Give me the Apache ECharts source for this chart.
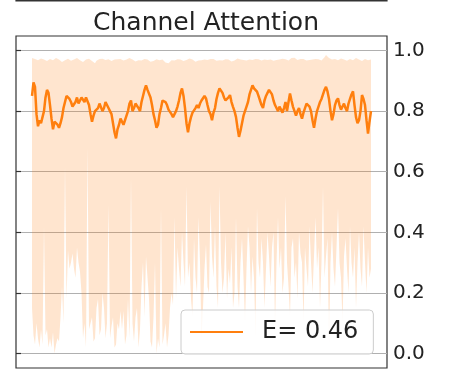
<!DOCTYPE html>
<html>
<head>
<meta charset="utf-8">
<script src="https://cdn.jsdelivr.net/npm/echarts@6/dist/echarts.min.js"></script>
<style>
  html, body { margin: 0; padding: 0; background: #fff; }
  #chart { width: 449px; height: 369px; }
</style>
</head>
<body>
<div id="chart"></div>
<script>
// mean attention per channel (orange line)
const meanValues = [
  0.85, 0.895, 0.88, 0.79, 0.75, 0.77, 0.76, 0.78, 0.80, 0.845, 0.87, 0.86, 0.82, 0.775, 0.74, 0.765, 0.77, 0.755, 0.745, 0.76,
  0.78, 0.81, 0.83, 0.85, 0.855, 0.84, 0.83, 0.815, 0.81, 0.83, 0.845, 0.825, 0.83, 0.845, 0.84, 0.83, 0.845, 0.84, 0.82, 0.79,
  0.765, 0.785, 0.80, 0.795, 0.81, 0.825, 0.82, 0.80, 0.81, 0.83, 0.825, 0.81, 0.80, 0.79, 0.76, 0.73, 0.71, 0.74, 0.755, 0.775,
  0.77, 0.755, 0.76, 0.785, 0.80, 0.825, 0.835, 0.80, 0.81, 0.825, 0.83, 0.81, 0.80, 0.83, 0.85, 0.87, 0.885, 0.87, 0.865, 0.845,
  0.82, 0.79, 0.77, 0.745, 0.755, 0.79, 0.81, 0.835, 0.84, 0.83, 0.82, 0.805, 0.81, 0.79, 0.78, 0.79, 0.80, 0.815, 0.835, 0.86,
  0.875, 0.85, 0.81, 0.76, 0.73, 0.76, 0.78, 0.795, 0.80, 0.81, 0.82, 0.81, 0.825, 0.835, 0.836, 0.85, 0.842, 0.82, 0.80, 0.79,
  0.77, 0.795, 0.81, 0.84, 0.86, 0.875, 0.88, 0.86, 0.845, 0.835, 0.83, 0.845, 0.853, 0.83, 0.814, 0.80, 0.78, 0.745, 0.715, 0.735,
  0.76, 0.785, 0.80, 0.815, 0.83, 0.855, 0.87, 0.885, 0.875, 0.87, 0.864, 0.85, 0.835, 0.82, 0.81, 0.835, 0.85, 0.86, 0.87, 0.865,
  0.855, 0.835, 0.82, 0.81, 0.80, 0.815, 0.82, 0.795, 0.81, 0.83, 0.80, 0.83, 0.858, 0.835, 0.814, 0.80, 0.785, 0.80, 0.81, 0.79,
  0.775, 0.795, 0.81, 0.825, 0.83, 0.815, 0.80, 0.77, 0.745, 0.775, 0.80, 0.815, 0.83, 0.84, 0.855, 0.87, 0.88, 0.865, 0.84, 0.80,
  0.77, 0.79, 0.82, 0.835, 0.842, 0.82, 0.805, 0.815, 0.825, 0.81, 0.80, 0.825, 0.84, 0.855, 0.865, 0.82, 0.78, 0.76, 0.77, 0.80,
  0.853, 0.84, 0.82, 0.77, 0.726, 0.765, 0.80
];

// min / max envelope (shaded band)
const lowerValues = [
  0.15, 0.06, 0.03, 0.10, 0.05, 0.02, 0.08, 0.03, 0.42, 0.06, 0.08, 0.02, 0.05, 0.02, 0.07, 0.0, 0.03, 0.05, 0.04, 0.12,
  0.22, 0.10, 0.62, 0.18, 0.34, 0.28, 0.30, 0.33, 0.28, 0.25, 0.35, 0.30, 0.27, 0.20, 0.05, 0.10, 0.02, 0.68, 0.08, 0.12,
  0.12, 0.04, 0.05, 0.15, 0.18, 0.06, 0.08, 0.20, 0.15, 0.05, 0.10, 0.49, 0.05, 0.09, 0.12, 0.02, 0.03, 0.10, 0.08, 0.14,
  0.08, 0.14, 0.03, 0.06, 0.18, 0.05, 0.58, 0.10, 0.04, 0.12, 0.15, 0.02, 0.08, 0.22, 0.30, 0.12, 0.32, 0.25, 0.18, 0.04,
  0.02, 0.12, 0.30, 0.0, 0.05, 0.02, 0.48, 0.03, 0.06, 0.10, 0.02, 0.06, 0.15, 0.20, 0.16, 0.45, 0.18, 0.35, 0.28, 0.22,
  0.40, 0.30, 0.22, 0.55, 0.25, 0.30, 0.18, 0.12, 0.38, 0.25, 0.20, 0.45, 0.30, 0.05, 0.15, 0.28, 0.36, 0.22, 0.20, 0.50,
  0.32, 0.25, 0.42, 0.22, 0.15, 0.55, 0.30, 0.20, 0.25, 0.40, 0.18, 0.28, 0.23, 0.35, 0.15, 0.20, 0.45, 0.22, 0.15, 0.30,
  0.38, 0.25, 0.10, 0.28, 0.42, 0.35, 0.20, 0.32, 0.25, 0.05, 0.48, 0.30, 0.25, 0.38, 0.30, 0.15, 0.28, 0.40, 0.32, 0.22,
  0.35, 0.40, 0.08, 0.30, 0.45, 0.28, 0.35, 0.20, 0.25, 0.52, 0.30, 0.22, 0.12, 0.35, 0.38, 0.25, 0.30, 0.18, 0.40, 0.33,
  0.30, 0.10, 0.35, 0.28, 0.22, 0.42, 0.30, 0.20, 0.32, 0.45, 0.28, 0.35, 0.15, 0.30, 0.55, 0.25, 0.32, 0.38, 0.02, 0.30,
  0.40, 0.28, 0.22, 0.35, 0.48, 0.30, 0.25, 0.10, 0.32, 0.38, 0.28, 0.20, 0.42, 0.30, 0.25, 0.35, 0.15, 0.30, 0.40, 0.28,
  0.22, 0.42, 0.30, 0.20, 0.35, 0.25, 0.28
];
const upperValues = [
  0.975, 0.970, 0.972, 0.966, 0.968, 0.973, 0.974, 0.969, 0.970, 0.965, 0.965, 0.970, 0.972, 0.967, 0.968, 0.974, 0.975, 0.969, 0.970, 0.966,
  0.962, 0.967, 0.968, 0.973, 0.973, 0.968, 0.966, 0.971, 0.970, 0.975, 0.975, 0.970, 0.968, 0.964, 0.962, 0.968, 0.970, 0.974, 0.973, 0.968,
  0.965, 0.960, 0.958, 0.966, 0.970, 0.972, 0.968, 0.973, 0.974, 0.969, 0.966, 0.971, 0.970, 0.965, 0.962, 0.970, 0.975, 0.971, 0.968, 0.972,
  0.972, 0.967, 0.965, 0.970, 0.970, 0.975, 0.976, 0.970, 0.968, 0.964, 0.963, 0.968, 0.971, 0.967, 0.966, 0.972, 0.974, 0.970, 0.969, 0.963,
  0.960, 0.965, 0.967, 0.971, 0.972, 0.968, 0.965, 0.970, 0.970, 0.960, 0.955, 0.958, 0.962, 0.968, 0.970, 0.967, 0.966, 0.971, 0.973, 0.970,
  0.968, 0.965, 0.964, 0.969, 0.970, 0.974, 0.975, 0.970, 0.967, 0.963, 0.962, 0.967, 0.970, 0.968, 0.965, 0.970, 0.972, 0.969, 0.968, 0.972,
  0.975, 0.972, 0.970, 0.966, 0.964, 0.968, 0.970, 0.967, 0.966, 0.971, 0.973, 0.970, 0.968, 0.964, 0.962, 0.967, 0.970, 0.974, 0.975, 0.970,
  0.967, 0.969, 0.970, 0.967, 0.965, 0.970, 0.972, 0.969, 0.968, 0.972, 0.974, 0.971, 0.970, 0.967, 0.966, 0.970, 0.973, 0.969, 0.968, 0.970,
  0.970, 0.966, 0.964, 0.969, 0.972, 0.970, 0.968, 0.973, 0.975, 0.971, 0.970, 0.967, 0.966, 0.975, 0.980, 0.976, 0.972, 0.969, 0.968, 0.972,
  0.975, 0.972, 0.970, 0.967, 0.965, 0.969, 0.972, 0.970, 0.968, 0.972, 0.974, 0.971, 0.970, 0.967, 0.966, 0.978, 0.985, 0.979, 0.975, 0.972,
  0.970, 0.971, 0.972, 0.969, 0.968, 0.972, 0.974, 0.971, 0.970, 0.967, 0.966, 0.970, 0.972, 0.969, 0.968, 0.972, 0.975, 0.972, 0.970, 0.967,
  0.965, 0.969, 0.972, 0.970, 0.968, 0.969, 0.970
];

const yTicks = [0, 0.2, 0.4, 0.6, 0.8, 1.0];
const legendLabel = "E= 0.46";
const titleText = "Channel Attention";

const channels = meanValues.map((_, i) => i);
const bandHeight = upperValues.map((v, i) => v - lowerValues[i]);

const FONT = "DejaVu Sans";
const FRAME = "#333";
const ORANGE = "#ff7f0e";

const chart = echarts.init(document.getElementById("chart"), null, { renderer: "canvas" });

chart.setOption({
  animation: false,
  title: {
    text: titleText,
    left: 201,
    textAlign: "center",
    top: 6,
    textStyle: { fontFamily: FONT, fontSize: 25, fontWeight: "normal", color: "#222" },
  },
  legend: {
    data: [{ name: legendLabel, icon: "rect" }],
    left: 181,
    top: 310,
    itemWidth: 53,
    itemHeight: 2,
    padding: [10, 15, 10, 9],
    backgroundColor: "rgba(255,255,255,0.8)",
    borderColor: "#cccccc",
    borderWidth: 1,
    borderRadius: 4,
    textStyle: { fontFamily: FONT, fontSize: 24, color: "#222", padding: [0, 0, 0, 14] },
  },
  grid: [
    // axes frame
    { left: 16, right: 62, top: 36, bottom: 1, show: true, borderColor: FRAME, borderWidth: 1.2 },
    // ticks + grid lines (0..1)
    { left: 16, right: 62, top: 50.5, bottom: 15.5 },
    // data area (x margins like matplotlib)
    { left: 32, right: 78, top: 50.5, bottom: 15.5 },
    // bottom edge of the subplot above
    { left: 16, right: 62, top: 0, height: 1, show: true, borderColor: FRAME, borderWidth: 1.2 },
  ],
  xAxis: [
    { gridIndex: 0, type: "value", show: false },
    { gridIndex: 1, type: "value", show: false },
    { gridIndex: 2, type: "category", data: channels, boundaryGap: false, show: false },
    { gridIndex: 3, type: "value", show: false },
  ],
  yAxis: [
    { gridIndex: 0, type: "value", show: false },
    {
      gridIndex: 1,
      type: "value",
      position: "right",
      min: yTicks[0],
      max: yTicks[yTicks.length - 1],
      interval: 0.2,
      axisLine: { show: false },
      axisTick: { show: true, length: 5, lineStyle: { color: FRAME, width: 1.2 } },
      axisLabel: {
        margin: 6,
        fontFamily: FONT,
        fontSize: 20,
        color: "#222",
        formatter: (v) => v.toFixed(1),
      },
      splitLine: { show: true, lineStyle: { color: "#b0b0b0", width: 1 } },
    },
    { gridIndex: 2, type: "value", min: 0, max: 1, show: false },
    { gridIndex: 3, type: "value", show: false },
  ],
  series: [
    {
      name: "lower",
      type: "line",
      xAxisIndex: 2,
      yAxisIndex: 2,
      data: lowerValues,
      stack: "band",
      symbol: "none",
      lineStyle: { opacity: 0 },
      silent: true,
    },
    {
      name: "band",
      type: "line",
      xAxisIndex: 2,
      yAxisIndex: 2,
      data: bandHeight,
      stack: "band",
      symbol: "none",
      lineStyle: { opacity: 0 },
      areaStyle: { color: ORANGE, opacity: 0.2 },
      silent: true,
    },
    {
      name: legendLabel,
      type: "line",
      xAxisIndex: 2,
      yAxisIndex: 2,
      data: meanValues,
      symbol: "none",
      color: ORANGE,
      lineStyle: { color: ORANGE, width: 2.5 },
      z: 5,
    },
  ],
});
</script>
</body>
</html>
